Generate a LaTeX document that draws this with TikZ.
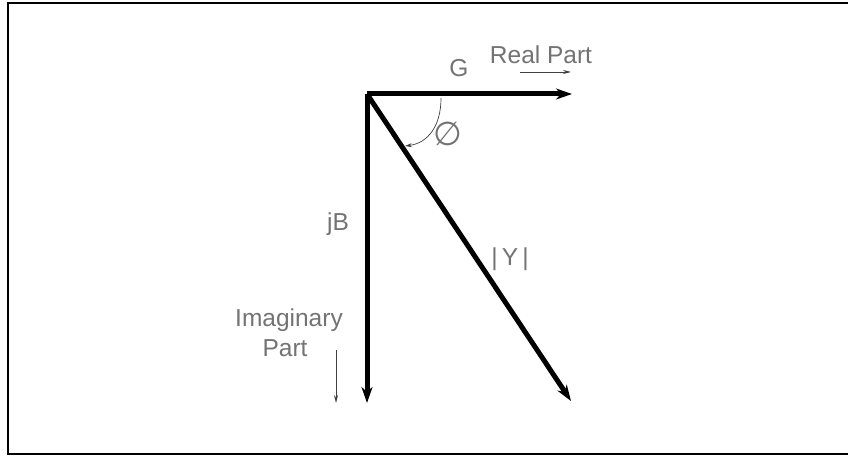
\documentclass[tikz,border=0pt]{standalone}
\usepackage{fontspec}
\setmainfont{Liberation Sans}
\newfontfamily\symfont{DejaVu Sans}
\usetikzlibrary{arrows.meta}
\begin{document}
\begin{tikzpicture}[x=1pt,y=-1pt,
  vec/.style={line width=5pt,-{Stealth[length=16pt,width=11pt,inset=5pt]}},
  thinarr/.style={line width=0.8pt,draw=black!75,-{Stealth[length=8pt,width=4pt]}},
  lbl/.style={text=black!55,font=\fontsize{24.5}{29}\selectfont,inner sep=0pt,anchor=base}]
\useasboundingbox (0,0) rectangle (848,457);
\clip (0,0) rectangle (848,457);
\draw[line width=2pt] (8,3) rectangle (860,454);
\coordinate (O) at (367,94);
\coordinate (Re) at (572,94);
\coordinate (Im) at (367,403);
\coordinate (Y) at (571,401);
\draw[vec] (O) -- (Re);
\draw[vec] (O) -- (Im);
\draw[vec] (O) -- (Y);
\coordinate (a1) at (441,98);
\coordinate (a2) at (405,146);
\draw[line width=0.7pt,draw=black!75,-{Stealth[length=7pt,width=4pt]}] (a1) .. controls (441,126) and (428,143) .. (a2);
\node[lbl] (G) at (459,77) {G};
\node[lbl] (RP) at (541,64) {Real Part};
\coordinate (r1) at (520,72);
\coordinate (r2) at (571,72);
\draw[thinarr] (r1) -- (r2);
\node[text=black!55,font=\symfont\fontsize{33}{36}\selectfont,inner sep=0pt] (phi) at (448,134) {∅};
\node[lbl] (jB) at (338,230) {jB};
\node[lbl] (absY) at (510,265) {|\,Y\,|};
\node[lbl] (Ima) at (289,326) {Imaginary};
\node[lbl] (Part) at (285,356) {Part};
\coordinate (i1) at (336,350);
\coordinate (i2) at (336,403);
\draw[thinarr] (i1) -- (i2);
\end{tikzpicture}
\end{document}
